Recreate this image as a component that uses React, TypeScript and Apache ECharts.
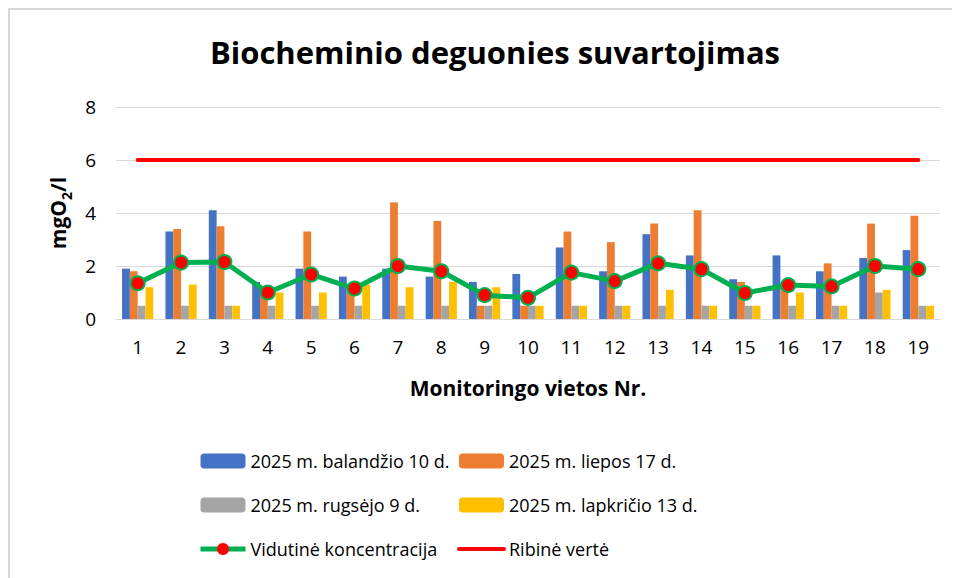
import React, { useEffect, useRef } from "react";
import * as echarts from "echarts";

const categories = ["1","2","3","4","5","6","7","8","9","10","11","12","13","14","15","16","17","18","19"];
const balandzio = [1.9,3.3,4.1,1.4,1.9,1.6,1.9,1.6,1.4,1.7,2.7,1.8,3.2,2.4,1.5,2.4,1.8,2.3,2.6];
const liepos = [1.8,3.4,3.5,1.1,3.3,1.2,4.4,3.7,0.5,0.5,3.3,2.9,3.6,4.1,1.4,1.2,2.1,3.6,3.9];
const rugsejo = [0.5,0.5,0.5,0.5,0.5,0.5,0.5,0.5,0.5,0.5,0.5,0.5,0.5,0.5,0.5,0.5,0.5,1.0,0.5];
const lapkricio = [1.2,1.3,0.5,1.0,1.0,1.3,1.2,1.4,1.2,0.5,0.5,0.5,1.1,0.5,0.5,1.0,0.5,1.1,0.5];
const vidutine = [1.35,2.13,2.15,1.0,1.68,1.15,2.0,1.8,0.9,0.8,1.75,1.43,2.1,1.88,0.98,1.28,1.23,2.0,1.88];
const ribine = [6,6,6,6,6,6,6,6,6,6,6,6,6,6,6,6,6,6,6];
const yTicks = [0, 2, 4, 6, 8];

const FONT = "'Open Sans', Carlito, sans-serif";

export default function App() {
  const ref = useRef<HTMLDivElement>(null);
  useEffect(() => {
    if (!ref.current) return;
    const chart = echarts.init(ref.current, null, { renderer: "svg" });
    const barNames = [
      "2025 m. balandžio 10 d.",
      "2025 m. liepos 17 d.",
      "2025 m. rugsėjo 9 d.",
      "2025 m. lapkričio 13 d.",
    ];
    const barData = [balandzio, liepos, rugsejo, lapkricio];
    const barColors = ["#4472C4", "#ED7D31", "#A5A5A5", "#FFC000"];
    const legendText = { fontFamily: FONT, fontSize: 18, color: "#000", lineHeight: 18 };
    chart.setOption({
      animation: false,
      backgroundColor: "#fff",
      title: {
        text: "Biocheminio deguonies suvartojimas",
        left: 480,
        top: 21,
        textAlign: "center",
        textStyle: { fontFamily: FONT, fontSize: 31, fontWeight: "bold", color: "#000" },
      },
      grid: { left: 106, top: 97, width: 824, height: 212, containLabel: false },
      legend: [
        {
          orient: "vertical",
          left: 188,
          top: 442,
          padding: 0,
          itemWidth: 45,
          itemHeight: 15,
          itemGap: 26,
          itemStyle: { borderWidth: 0 },
          textStyle: legendText,
          data: [
            barNames[0],
            barNames[2],
            { name: "Vidutinė koncentracija", lineStyle: { width: 5, color: "#00B050" } },
          ],
        },
        {
          orient: "vertical",
          left: 447,
          top: 442,
          padding: 0,
          itemWidth: 45,
          itemHeight: 15,
          itemGap: 26,
          itemStyle: { borderWidth: 0 },
          textStyle: legendText,
          data: [
            barNames[1],
            barNames[3],
            { name: "Ribinė vertė", lineStyle: { width: 4, color: "#FF0000" }, itemStyle: { opacity: 0 } },
          ],
        },
      ],
      xAxis: {
        type: "category",
        data: categories,
        name: "Monitoringo vietos Nr.",
        nameLocation: "middle",
        nameGap: 58,
        nameTextStyle: { fontFamily: FONT, fontSize: 21, fontWeight: "bold", color: "#000" },
        axisLine: { show: true, lineStyle: { color: "#D9D9D9", width: 1 } },
        axisTick: { show: false },
        axisLabel: { fontFamily: FONT, fontSize: 19, color: "#000", margin: 18 },
      },
      yAxis: {
        type: "value",
        min: yTicks[0],
        max: yTicks[yTicks.length - 1],
        interval: 2,
        name: "{a|mgO}{b|2}{a|/l}",
        nameLocation: "middle",
        nameGap: 43,
        nameRotate: 90,
        nameTextStyle: {
          fontFamily: FONT,
          fontWeight: "bold",
          color: "#000",
          rich: {
            a: { fontFamily: FONT, fontSize: 21, fontWeight: "bold", color: "#000", lineHeight: 30, verticalAlign: "middle" },
            b: { fontFamily: FONT, fontSize: 14, fontWeight: "bold", color: "#000", lineHeight: 30, verticalAlign: "bottom" },
          },
        },
        axisLine: { show: false },
        axisTick: { show: false },
        axisLabel: { fontFamily: FONT, fontSize: 19, color: "#000", margin: 20 },
        splitLine: { show: true, lineStyle: { color: "#D9D9D9", width: 1 } },
      },
      series: [
        ...barNames.map((n, i) => ({
          name: n,
          type: "bar",
          data: barData[i],
          barGap: "0%",
          barCategoryGap: "28%",
          itemStyle: { color: barColors[i] },
          z: 2,
        })),
        {
          name: "Vidutinė koncentracija",
          type: "line",
          data: vidutine,
          symbol: "circle",
          symbolSize: 14,
          lineStyle: { color: "#00B050", width: 5 },
          itemStyle: { color: "#FF0000", borderColor: "#00B050", borderWidth: 2 },
          z: 5,
        },
        {
          name: "Ribinė vertė",
          type: "line",
          data: ribine,
          symbol: "none",
          lineStyle: { color: "#FF0000", width: 4, cap: "round" },
          itemStyle: { color: "#FF0000" },
          z: 4,
        },
      ],
    });
    return () => chart.dispose();
  }, []);
  return (
    <div
      style={{
        width: 950,
        height: 568,
        borderLeft: "2px solid #D9D9D9",
        borderTop: "2px solid #D9D9D9",
      }}
    >
      <div ref={ref} style={{ width: 950, height: 568 }} />
    </div>
  );
}
